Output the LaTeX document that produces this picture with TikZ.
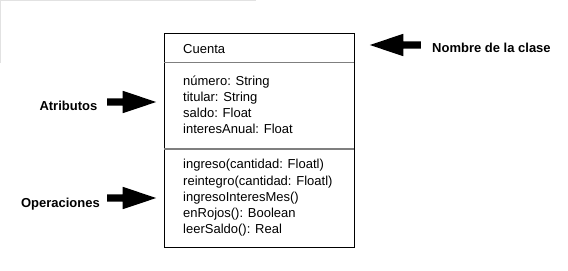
\documentclass[tikz,border=0pt]{standalone}
\usepackage{fontspec}
\setmainfont{Liberation Sans}
\usepackage{xcolor}
\usetikzlibrary{shapes.arrows}
\definecolor{divgray}{HTML}{7F7F7F}
\definecolor{edgegray}{HTML}{E2E2E2}

\begin{document}
\begin{tikzpicture}[x=1bp, y=-1bp,
          classbox/.style={draw=black, line width=1bp, anchor=north west, inner sep=0pt,
                           minimum width=190bp, minimum height=214bp},
          member/.style={anchor=base west, inner sep=0pt, align=left,
                         font=\fontsize{13bp}{16.1bp}\selectfont},
          lbl/.style={inner sep=0pt, font=\fontsize{13bp}{16bp}\selectfont\bfseries},
          bigarr/.style={single arrow, fill=black, draw=none, inner xsep=0pt, inner ysep=3.5bp,
                         anchor=tail, minimum width=22bp, single arrow head extend=7.5bp,
                         single arrow tip angle=37},
          divider/.style={divgray, line width=1.2bp}
        ]
        \useasboundingbox (0,0) rectangle (568,270);
        \draw[edgegray, line width=1bp] (0,0.5) -- (256,0.5);
        \draw[edgegray, line width=1bp] (0.5,0) -- (0.5,63);

        % class box
        \node[classbox] (cls) at (164,33) {};
        \coordinate (d1w) at (164,62.5);  \coordinate (d1e) at (354,62.5);
        \coordinate (d2w) at (164,149);   \coordinate (d2e) at (354,149);
        \draw[divider] (d1w) -- (d1e);
        \draw[divider] (d2w) -- (d2e);

        % base anchor sits on the last line
        \node[member] (name) at (183,53.5) {Cuenta};
        \node[member] (attrs) at (183,133.3) {número: String\\titular: String\\saldo: Float\\interesAnual: Float};
        \node[member] (ops) at (183,233.3) {ingreso(cantidad: Floatl)\\reintegro(cantidad: Floatl)\\ingresoInteresMes()\\enRojos(): Boolean\\leerSaldo(): Real};

        % labels
        \node[lbl, anchor=base west] (lname) at (432,52.5) {Nombre de la clase};
        \node[lbl, anchor=base east] (lattr) at (97.5,110) {Atributos};
        \node[lbl, anchor=base east] (lops) at (100,207) {Operaciones};

        \node[bigarr, shape border rotate=180, minimum height=51bp] (aname) at (421,45) {};
        \node[bigarr, minimum height=49bp] (aattr) at (107,102) {};
        \node[bigarr, minimum height=49bp] (aops) at (107,198) {};
      \end{tikzpicture}
\end{document}
